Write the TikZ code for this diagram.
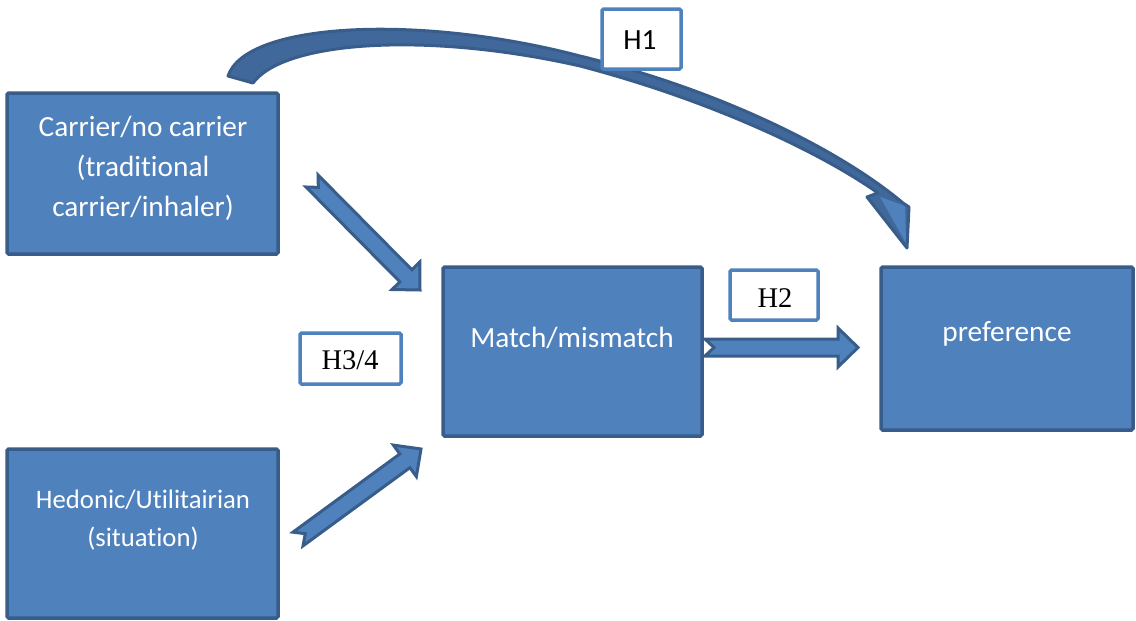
\documentclass[tikz,border=0pt]{standalone}
\usepackage{fontspec}
\setmainfont{Liberation Serif}
\newfontfamily\calfont[Ligatures=NoCommon]{Carlito}
\usetikzlibrary{calc}
\definecolor{boxfill}{HTML}{4F81BD}
\definecolor{boxline}{HTML}{385D8A}
\definecolor{curvefill}{HTML}{41689B}
\tikzset{
  box/.style={draw=boxline, fill=boxfill, line width=3.5pt, rounded corners=1.5pt, inner sep=0pt},
  boxtext/.style={text=white, font=\calfont\fontsize{29.3}{40}\selectfont, align=center, inner sep=0pt},
  hbox/.style={draw=boxfill, fill=white, line width=3.5pt, rounded corners=1.5pt, inner sep=0pt},
  htext/.style={text=black, font=\fontsize{28.5}{34}\selectfont, inner sep=0pt},
  blockarrow/.style={draw=boxline, fill=boxfill, line width=3pt, line join=miter},
  curveline/.style={draw=boxline, line width=3pt, line join=round},
}
\newcommand\notcharrow[2]{%
  \coordinate (#1-b) at ($(#2)!20pt!(#1)$);
  \draw[blockarrow] ($(#1)!8.5pt!90:(#2)$) -- ($(#1-b)!8.5pt!90:(#2)$) -- ($(#1-b)!19.5pt!90:(#2)$) -- (#2)
    -- ($(#1-b)!19.5pt!-90:(#2)$) -- ($(#1-b)!8.5pt!-90:(#2)$) -- ($(#1)!8.5pt!-90:(#2)$) -- ($(#1)!9pt!(#2)$) -- cycle;
}
\newcommand\hcurvepath{(228,76) .. controls (246,22) and (420,14) .. (580,56) .. controls (720,90) and (840,150) .. (903,203) -- (909,207) -- (h1tip) -- (867,197) -- (878,193) .. controls (820,152) and (710,100) .. (580,66) .. controls (430,32) and (285,40) .. (253,83) -- cycle}
\begin{document}
\begin{tikzpicture}[x=1pt, y=-1pt]
\useasboundingbox (0,0) rectangle (1136,621);
% boxes
\node[box, minimum width=271pt, minimum height=161pt] (carrier) at (142.5,173.5) {};
\node[box, minimum width=271pt, minimum height=169pt] (hedonic) at (142.5,533.5) {};
\node[box, minimum width=259pt, minimum height=169pt] (match) at (572.5,351.5) {};
\node[box, minimum width=252pt, minimum height=163pt] (pref) at (1007,348.5) {};
\node[boxtext] (carriertext) at (143,168) {Carrier/no carrier\\(traditional\\carrier/inhaler)};
\node[boxtext, font=\calfont\fontsize{26.7}{37.5}\selectfont] (hedonictext) at (143,520) {Hedonic/Utilitairian\\(situation)};
\node[boxtext] (matchtext) at (572,338) {Match/mismatch};
\node[boxtext] (preftext) at (1007,334) {preference};
% curved arrow H1
\coordinate (h1tip) at (907,248);
\path[fill=curvefill] \hcurvepath;
\fill[boxfill] (880,197) -- (905,206) -- (906,243) -- cycle;
\path[curveline] \hcurvepath;
% straight arrows
\coordinate (a1t) at (312,181);
\coordinate (a1h) at (420,290);
\notcharrow{a1t}{a1h}
\coordinate (a2t) at (298,539);
\coordinate (a2h) at (421,449);
\notcharrow{a2t}{a2h}
\coordinate (a3t) at (705,347.5);
\coordinate (a3h) at (858,347.5);
\notcharrow{a3t}{a3h}
% hypothesis labels
\node[hbox, minimum width=79pt, minimum height=60pt] (h1) at (641.5,39) {};
\node[htext, font=\calfont\fontsize{29.3}{34}\selectfont] (h1text) at (640,40) {H1};
\node[hbox, minimum width=88pt, minimum height=50pt] (h2) at (774,295) {};
\node[htext] (h2text) at (775,298) {H2};
\node[hbox, minimum width=101pt, minimum height=51pt] (h34) at (350.5,358.5) {};
\node[htext] (h34text) at (350,360) {H3/4};
\end{tikzpicture}
\end{document}
